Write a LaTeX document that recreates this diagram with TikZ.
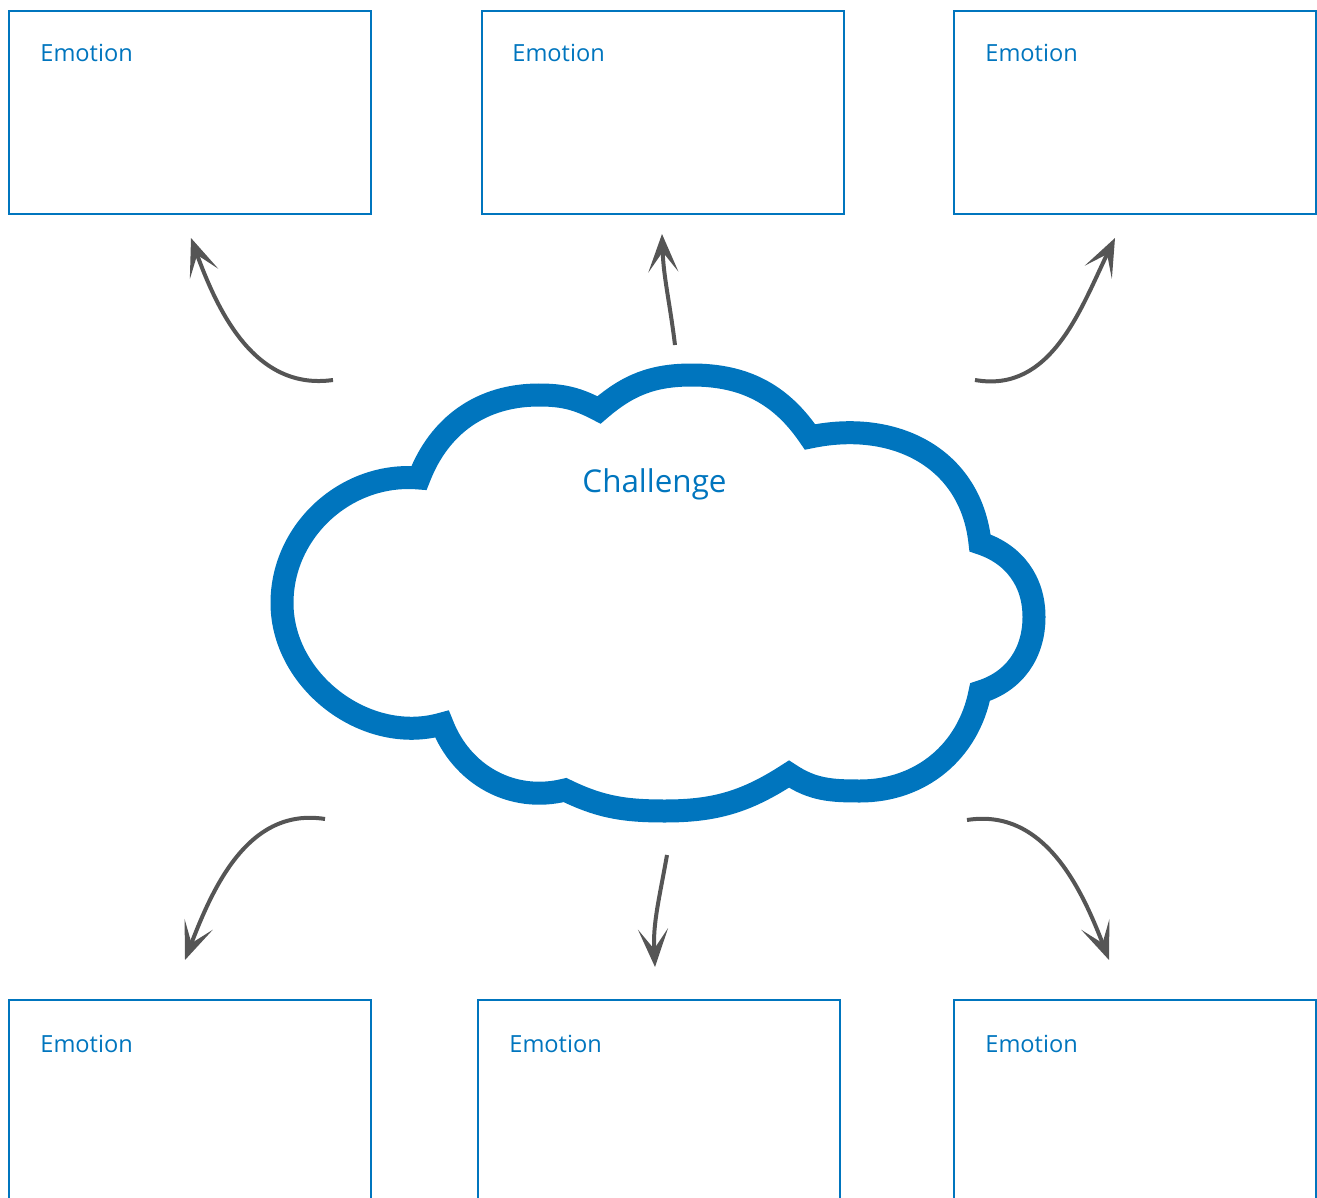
\documentclass[tikz,border=0pt]{standalone}
\usepackage{fontspec}
\setmainfont{Open Sans}
\usepackage{tikz}
\usetikzlibrary{arrows.meta}

\definecolor{cloudblue}{RGB}{0,117,190}
\definecolor{arrowgray}{RGB}{85,85,85}

\tikzset{
    emobox/.style={draw=cloudblue, line width=1pt, minimum width=181pt, minimum height=101.5pt, inner sep=0pt, anchor=north west},
    emolabel/.style={text=cloudblue, font=\fontsize{11.8}{14}\selectfont, anchor=base west, inner sep=0pt},
    feel/.style={draw=arrowgray, line width=2pt, -{Stealth[length=19pt,width=15pt,inset=10pt]}},
}

\begin{document}
\begin{tikzpicture}[x=0.5pt, y=0.5pt]
            \useasboundingbox (0,0) rectangle (1317,-1198);
            \clip (0,0) rectangle (1317,-1198);
            %
            \node[emobox] (emoTL) at (8,-10) {};
            \node[emobox] (emoTM) at (481,-10) {};
            \node[emobox] (emoTR) at (953,-10) {};
            \node[emobox] (emoBL) at (8,-999) {};
            \node[emobox] (emoBM) at (477,-999) {};
            \node[emobox] (emoBR) at (953,-999) {};
            %
            \node[emolabel] (lblTL) at (40,-62) {Emotion};
            \node[emolabel] (lblTM) at (512,-62) {Emotion};
            \node[emolabel] (lblTR) at (985,-62) {Emotion};
            \node[emolabel] (lblBL) at (40,-1052) {Emotion};
            \node[emolabel] (lblBM) at (509,-1052) {Emotion};
            \node[emolabel] (lblBR) at (985,-1052) {Emotion};
            %
            % cloud: lobe tops and the cusps between them
            \coordinate (cA) at (282,-603);
            \coordinate (c1) at (419,-478);
            \coordinate (cB) at (539,-395);
            \coordinate (c2) at (599,-410);
            \coordinate (cC) at (692,-375);
            \coordinate (c3) at (810,-437);
            \coordinate (c4) at (980,-543);
            \coordinate (cE) at (1034,-617);
            \coordinate (c5) at (980,-692);
            \coordinate (cF) at (860,-791);
            \coordinate (c6) at (789,-774);
            \coordinate (cG) at (665,-811);
            \coordinate (c7) at (565,-790);
            \coordinate (c8) at (442,-724);
            %
            \draw[cloudblue, line width=11.5pt, line join=miter]
                (cA) to[out=90,in=175] (c1) to[out=69,in=180] (cB)
                to[out=0,in=152] (c2) to[out=41,in=180] (cC)
                to[out=0,in=124] (c3) to[out=12,in=96,looseness=1.1] (c4)
                to[out=-18,in=90] (cE)
                to[out=-90,in=17] (c5) to[out=-101,in=0] (cF)
                to[out=180,in=-34] (c6) to[out=-147,in=0] (cG)
                to[out=180,in=-26] (c7) to[out=-166,in=-69] (c8)
                to[out=196,in=-90] (cA) -- cycle;
            %
            \node[text=cloudblue, font=\fontsize{15.7}{18}\selectfont, anchor=base, inner sep=0pt] (challenge) at (654.5,-492) {Challenge};
            %
            \coordinate (tTL) at (333,-380);  \coordinate (hTL) at (191,-238);
            \coordinate (tTM) at (675,-345);  \coordinate (hTM) at (662,-234);
            \coordinate (tTR) at (975,-380);  \coordinate (hTR) at (1115,-238);
            \coordinate (tBL) at (325,-819);  \coordinate (hBL) at (185,-960);
            \coordinate (tBM) at (667,-855);  \coordinate (hBM) at (655,-967);
            \coordinate (tBR) at (967,-820);  \coordinate (hBR) at (1109,-960);
            %
            \draw[feel] (tTL) to[out=188,in=-70] (hTL);
            \draw[feel] (tTM) to[out=97,in=-88] (hTM);
            \draw[feel] (tTR) to[out=-10,in=-116] (hTR);
            \draw[feel] (tBL) to[out=171,in=69] (hBL);
            \draw[feel] (tBM) to[out=-100,in=93] (hBM);
            \draw[feel] (tBR) to[out=9,in=111] (hBR);
\end{tikzpicture}
\end{document}
